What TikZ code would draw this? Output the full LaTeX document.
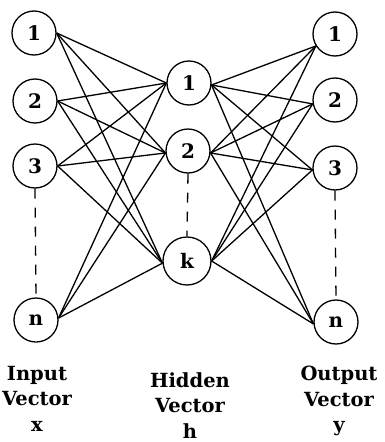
\documentclass[tikz,border=0pt]{standalone}
\usepackage{fontspec}
\setmainfont{DejaVu Serif}
\begin{document}
\begin{tikzpicture}[x=1pt,y=-1pt,
  unit/.style={circle,draw,line width=1.3pt,minimum size=44pt,inner sep=0pt,font=\bfseries\fontsize{20}{20}\selectfont},
  link/.style={line width=1.3pt},
  gap/.style={line width=1.3pt,dash pattern=on 10pt off 9pt},
  caption/.style={align=center,inner sep=0pt,font=\bfseries\fontsize{19.5}{25.5}\selectfont}]
\useasboundingbox (0,0) rectangle (384,442);
% input layer
\node[unit] (i1) at (34,33) {1};
\node[unit] (i2) at (35,101) {2};
\node[unit] (i3) at (35,166) {3};
\node[unit] (in) at (36,320) {n};
% hidden layer
\node[unit] (h1) at (189,83) {1};
\node[unit] (h2) at (188,151) {2};
\node[unit,minimum size=48pt] (hk) at (187,261) {k};
% output layer
\node[unit] (o1) at (335,34) {1};
\node[unit] (o2) at (335,100) {2};
\node[unit] (o3) at (335,168) {3};
\node[unit] (on) at (336,322) {n};
% attachment points
\coordinate (i1p) at (i1.east);
\coordinate (i2p) at (i2.east);
\coordinate (i3p) at (i3.east);
\coordinate (inp) at (in.5);
\coordinate (h1l) at (h1.west);
\coordinate (h2l) at (h2.185);
\coordinate (hkl) at (hk.185);
\coordinate (h1r) at (h1.355);
\coordinate (h2r) at (h2.355);
\coordinate (hkr) at (hk.east);
\coordinate (o1p) at (o1.212);
\coordinate (o2p) at (o2.190);
\coordinate (o3p) at (o3.185);
\coordinate (onp) at (on.185);
% input -> hidden
\foreach \a in {i1p,i2p,i3p,inp}
  \foreach \b in {h1l,h2l,hkl}
    \draw[link] (\a) -- (\b);
% hidden -> output
\foreach \a in {h1r,h2r,hkr}
  \foreach \b in {o1p,o2p,o3p,onp}
    \draw[link] (\a) -- (\b);
% dashed gaps
\draw[gap] (i3.south) -- (in.north);
\draw[gap] (h2.south) -- (hk.north);
\draw[gap] (o3.south) -- (on.north);
% captions
\node[caption,anchor=north] (ci) at (37,366) {Input\\Vector\\x};
\node[caption,anchor=north] (ch) at (190,372) {Hidden\\Vector\\h};
\node[caption,anchor=north] (co) at (339,366) {Output\\Vector\\y};
\end{tikzpicture}
\end{document}
